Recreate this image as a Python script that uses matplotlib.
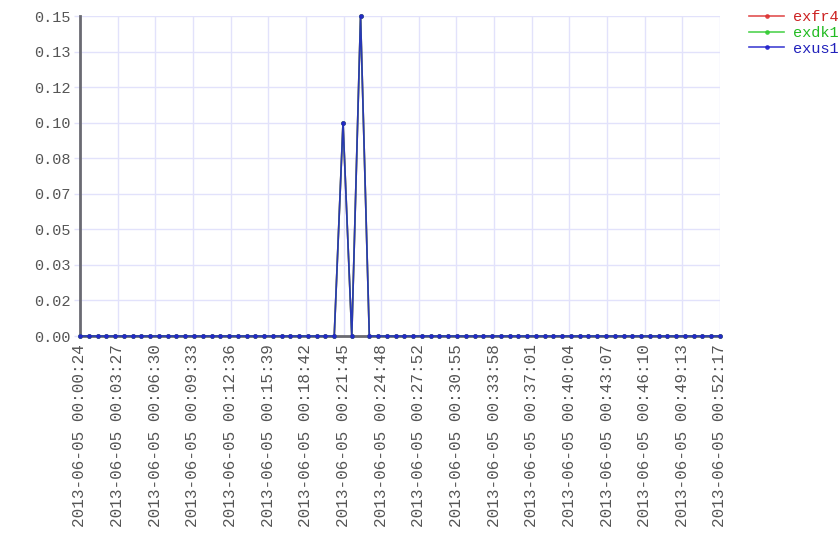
import numpy as np
import pandas as pd
import matplotlib
matplotlib.use('Agg')
import matplotlib.pyplot as plt
import matplotlib.dates as mdates

plt.rcParams['font.family'] = ['Liberation Mono', 'DejaVu Sans Mono']

start_time = '2013-06-05 00:00:24'
end_time = '2013-06-05 00:52:17'
n_points = 74

series_names = ['exfr4', 'exdk1', 'exus1']
line_colors = ['#dd3333', '#33cc33', '#2222cc']
text_colors = ['#cc2222', '#22bb22', '#2222bb']

# all three series carry the same values, exus1 drawn on top
values = [0.0] * 30 + [0.10, 0.0, 0.15] + [0.0] * 41
series_values = [values, values, values]

y_ticks = [0.0, 0.0167, 0.0333, 0.05, 0.0667, 0.0833, 0.10, 0.1167, 0.1333, 0.15]
y_labels = ['0.00', '0.02', '0.03', '0.05', '0.07', '0.08', '0.10', '0.12', '0.13', '0.15']
x_labels = ['2013-06-05 00:00:24', '2013-06-05 00:03:27', '2013-06-05 00:06:30',
            '2013-06-05 00:09:33', '2013-06-05 00:12:36', '2013-06-05 00:15:39',
            '2013-06-05 00:18:42', '2013-06-05 00:21:45', '2013-06-05 00:24:48',
            '2013-06-05 00:27:52', '2013-06-05 00:30:55', '2013-06-05 00:33:58',
            '2013-06-05 00:37:01', '2013-06-05 00:40:04', '2013-06-05 00:43:07',
            '2013-06-05 00:46:10', '2013-06-05 00:49:13', '2013-06-05 00:52:17']


def main():
    times = pd.date_range(start_time, end_time, periods=n_points)
    x = mdates.date2num(times.to_pydatetime())

    fig = plt.figure(figsize=(8.4, 5.6), dpi=100)
    ax = fig.add_axes([80 / 840, 1 - 336 / 560, 640 / 840, 320 / 560])

    handles = []
    for name, vals, c in zip(series_names, series_values, line_colors):
        h, = ax.plot(x, vals, color=c, lw=1.2, alpha=0.85, marker='o', markersize=2.4,
                     markerfacecolor=c, markeredgecolor=c, label=name, clip_on=False,
                     zorder=3)
        handles.append(h)

    ax.set_xlim(x[0], x[-1])
    ax.set_ylim(0, 0.15)
    ax.set_yticks(y_ticks)
    ax.set_yticklabels(y_labels)
    ax.set_xticks(np.linspace(x[0], x[-1], len(x_labels)))
    ax.set_xticklabels(x_labels, rotation=90, va='top', ha='center')

    ax.grid(True, color='#e2e2fb', lw=1)
    ax.set_axisbelow(True)
    for s in ['top', 'right']:
        ax.spines[s].set_visible(False)
    for s in ['left', 'bottom']:
        ax.spines[s].set_color('#6a6a72')
        ax.spines[s].set_linewidth(2)
    ax.tick_params(axis='y', length=4, width=1, color='#e2e2fb', pad=3, labelsize=11, labelcolor='#555555')
    ax.tick_params(axis='x', length=0, pad=6, labelsize=11.5, labelcolor='#555555')

    fig.legend(handles, series_names, loc='upper left', bbox_to_anchor=(743 / 840, 1 - 4 / 560),
               frameon=False, fontsize=11, handlelength=2.3, handletextpad=0.6,
               labelspacing=0.12, borderaxespad=0, labelcolor=text_colors)

    fig.savefig('out.png', dpi=100)


if __name__ == '__main__':
    main()
